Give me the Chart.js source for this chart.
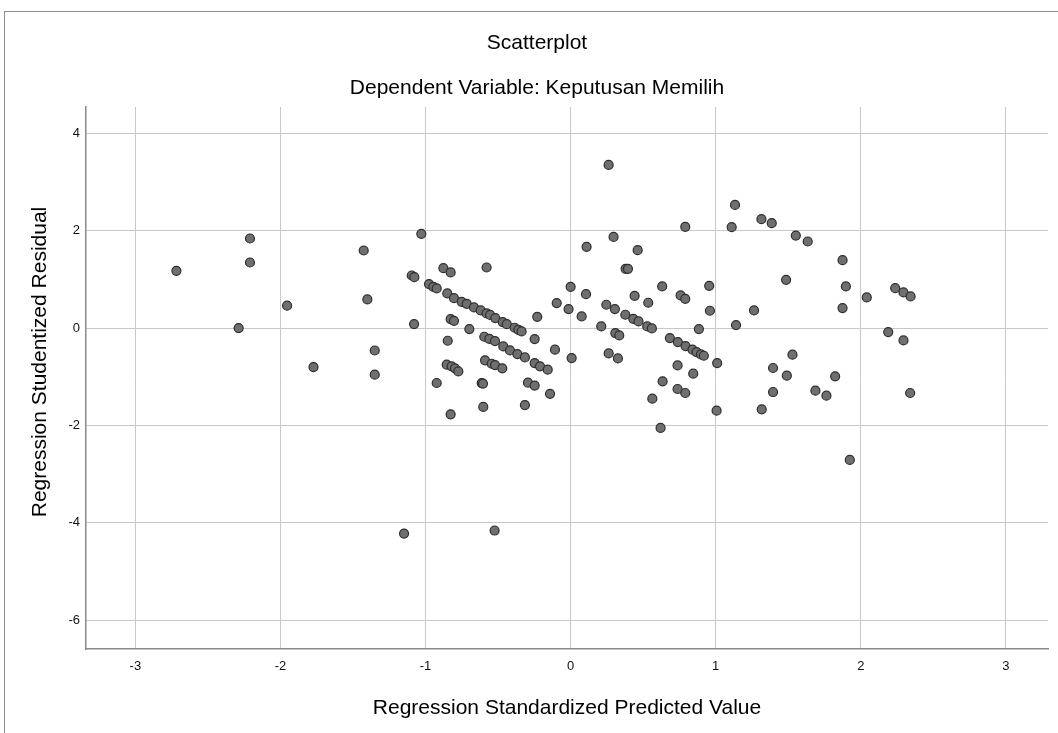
<!DOCTYPE html>
<html>
<head>
<meta charset="utf-8">
<title>Scatterplot</title>
<script src="https://cdn.jsdelivr.net/npm/chart.js@4.4.0/dist/chart.umd.min.js"></script>
<style>
	html, body { margin: 0; padding: 0; background: #fff; }
	#wrap { position: relative; width: 1058px; height: 733px; overflow: hidden; }
	#frame { position: absolute; left: 4px; top: 11px; right: -4px; bottom: -4px; border-top: 1px solid #8c8c8c; border-left: 1px solid #8c8c8c; }
	canvas { position: absolute; left: 0; top: 0; }
</style>
</head>
<body>
<div id="wrap">
	<div id="frame"></div>
	<canvas id="myChart" width="1058" height="733"></canvas>
</div>
<script>
"use strict";

// Values
const predictedValues = [
	-2.717, -2.21, -2.21, -2.288, -1.954, -1.772, -1.426, -1.401, -1.35, -1.35, -1.148,
	-1.029, -1.095, -1.077, -1.079, -0.976, -0.946, -0.923, -0.877, -0.827, -0.85, -0.804,
	-0.751, -0.716, -0.666, -0.62, -0.579, -0.555, -0.519, -0.468, -0.44, -0.386, -0.36, -0.338,
	-0.579, -0.827, -0.804, -0.698, -0.847,
	-0.595, -0.56, -0.521, -0.464, -0.418, -0.367, -0.315,
	-0.854, -0.82, -0.797, -0.774, -0.59, -0.544, -0.521, -0.471,
	-0.923, -0.613, -0.604, -0.248, -0.23, -0.248, -0.211, -0.158, -0.294, -0.248, -0.142,
	-0.315, -0.108, -0.096, -0.014, 0.0, 0.007, 0.076, 0.106, 0.11, 0.262, 0.296,
	0.211, 0.246, 0.305, 0.262, 0.326, 0.308, 0.335, 0.379, 0.395, 0.377, 0.432, 0.468,
	0.441, 0.462, 0.535, 0.528, 0.56, 0.631, 0.684, 0.739, 0.792, 0.84, 0.868, 0.898, 0.918,
	0.758, 0.79, 0.79, 0.884, 0.955, 0.96, 1.01, 0.737, 0.845, 0.634, 0.737, 0.79, 0.563,
	0.62, 1.006, -0.827, -0.602, -0.524,
	1.133, 1.11, 1.315, 1.386, 1.552, 1.634, 1.874, 1.485, 1.897, 1.874, 2.041, 2.237, 2.294,
	2.343, 1.264, 1.14, 2.189, 2.294, 1.529, 1.395, 1.49, 1.823, 1.395, 1.687, 1.763, 2.34,
	1.924, 1.317
];

const residualValues = [
	1.176, 1.84, 1.347, 0.0, 0.46, -0.8, 1.593, 0.588, -0.46, -0.957, -4.219,
	1.935, 1.08, 1.046, 0.082, 0.903, 0.848, 0.814, 1.231, 1.142, 0.711, 0.615,
	0.54, 0.499, 0.424, 0.362, 0.301, 0.27, 0.205, 0.123, 0.08, 0.007, -0.035, -0.068,
	1.244, 0.185, 0.15, -0.02, -0.26,
	-0.178, -0.22, -0.267, -0.376, -0.458, -0.533, -0.602,
	-0.752, -0.786, -0.827, -0.889, -0.663, -0.732, -0.759, -0.827,
	-1.128, -1.13, -1.14, -0.226, 0.232, -0.718, -0.786, -0.855, -1.12, -1.18, -1.35,
	-1.58, -0.444, 0.513, 0.39, 0.848, -0.615, 0.239, 0.697, 1.668, 3.35, 1.873,
	0.034, 0.479, 0.39, -0.52, -0.622, -0.103, -0.15, 1.217, 1.217, 0.274, 0.191, 0.137,
	0.663, 1.6, 0.52, 0.034, -0.007, 0.855, -0.205, -0.287, -0.369, -0.444, -0.492, -0.54, -0.568,
	0.67, 0.6, 2.08, -0.02, 0.868, 0.356, -0.718, -0.766, -0.937, -1.094, -1.251, -1.333, -1.45,
	-2.051, -1.696, -1.771, -1.62, -4.157,
	2.53, 2.072, 2.236, 2.154, 1.9, 1.778, 1.395, 0.991, 0.855, 0.41, 0.629, 0.82, 0.732,
	0.65, 0.362, 0.062, -0.082, -0.253, -0.547, -0.82, -0.978, -0.991, -1.313, -1.285, -1.388, -1.333,
	-2.708, -1.668
];

const xTicks = [-3, -2, -1, 0, 1, 2, 3];
const yTicks = [-6, -4, -2, 0, 2, 4];

const chartTitle = "Scatterplot";
const chartSubtitle = "Dependent Variable: Keputusan Memilih";
const xTitle = "Regression Standardized Predicted Value";
const yTitle = "Regression Studentized Residual";

const fontFamily = "'Liberation Sans', Arial, sans-serif";

function buildPoints() {
	return predictedValues.map(function (x, i) {
		return { x: x, y: residualValues[i] };
	});
}

// SPSS puts the y title a little above the middle of the axis, so it is drawn here
const yTitlePlugin = {
	id: "yTitle",
	afterDraw: function (chart) {
		const c = chart.ctx;
		const area = chart.chartArea;
		c.save();
		c.translate(40, (area.top + area.bottom) / 2 - 16);
		c.rotate(-Math.PI / 2);
		c.fillStyle = "#000";
		c.font = "21px " + fontFamily;
		c.textAlign = "center";
		c.textBaseline = "middle";
		c.fillText(yTitle, 0, 0);
		c.restore();
	},
};

function generateScatterChart() {
	const ctx = document.getElementById("myChart");

	new Chart(ctx, {
		type: "scatter",
		data: {
			datasets: [
				{
					data: buildPoints(),
					backgroundColor: "#6f6f6f",
					borderColor: "#2e2e2e",
					borderWidth: 1.2,
					pointRadius: 4.5,
				},
			],
		},
		options: {
			responsive: false,
			animation: false,
			layout: { padding: { left: 26, right: 10, top: 0, bottom: 0 } },
			plugins: {
				legend: { display: false },
				tooltip: { enabled: false },
				title: {
					display: true,
					text: chartTitle,
					color: "#000",
					font: { family: fontFamily, size: 21, weight: "normal" },
					padding: { top: 31, bottom: 19 },
				},
				subtitle: {
					display: true,
					text: chartSubtitle,
					color: "#000",
					font: { family: fontFamily, size: 21, weight: "normal" },
					padding: { top: 0, bottom: 6.6 },
				},
			},
			scales: {
				x: {
					type: "linear",
					min: -3.34,
					max: 3.29,
					afterFit: function (scale) {
						scale.height = 84;
					},
					afterBuildTicks: function (scale) {
						scale.ticks = xTicks.map(function (v) {
							return { value: v };
						});
					},
					ticks: {
						color: "#111",
						padding: 10,
						font: { family: fontFamily, size: 13 },
					},
					grid: { color: "#c8c8c8", drawTicks: false },
					border: { color: "#8a8a8a", width: 1.5 },
					title: {
						display: true,
						text: xTitle,
						color: "#000",
						font: { family: fontFamily, size: 21 },
						padding: { top: 0, bottom: 12.4 },
					},
				},
				y: {
					type: "linear",
					min: -6.59,
					max: 4.54,
					afterFit: function (scale) {
						scale.width = 60;
					},
					afterBuildTicks: function (scale) {
						scale.ticks = yTicks.map(function (v) {
							return { value: v };
						});
					},
					ticks: {
						color: "#111",
						padding: 6,
						font: { family: fontFamily, size: 13 },
					},
					grid: { color: "#c8c8c8", drawTicks: false },
					border: { color: "#8a8a8a", width: 1.5 },
				},
			},
		},
		plugins: [yTitlePlugin],
	});
}

generateScatterChart();
</script>
</body>
</html>
